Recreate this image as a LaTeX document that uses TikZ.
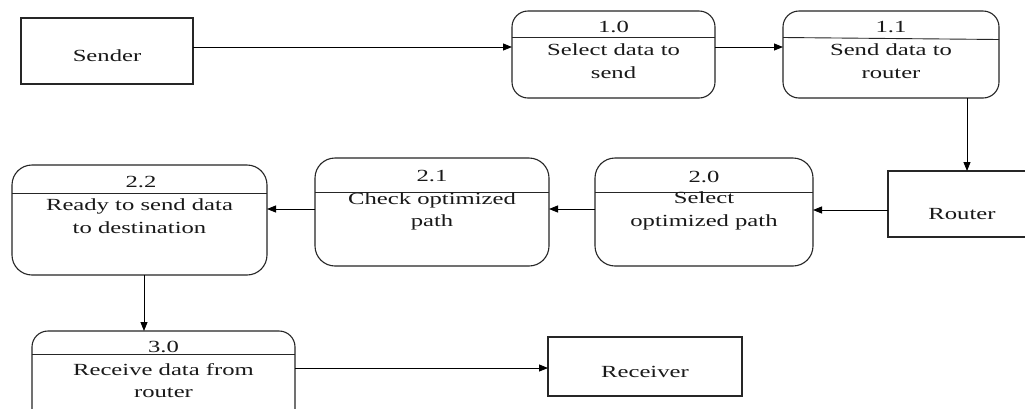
\documentclass[tikz,border=0pt]{standalone}
\usepackage{fontspec}
\setmainfont{Liberation Serif}[FakeStretch=1.45]
\usetikzlibrary{arrows.meta}
\begin{document}
\begin{tikzpicture}[x=1pt,y=-1pt,
  entity/.style={draw=black!85, line width=1.1pt, rectangle, inner sep=0pt, outer sep=0pt},
  procbox/.style={draw=black!85, line width=1.1pt, rectangle, rounded corners=16pt, inner sep=0pt, outer sep=0pt},
  divline/.style={draw=black!85, line width=0.9pt},
  arr/.style={draw=black, line width=0.9pt, -{Triangle[length=9pt,width=7pt]}},
  txt/.style={anchor=base, align=center, inner sep=0pt, text=black!90, font=\fontsize{17}{22.5}\selectfont}]
\clip (0,0) rectangle (1025,408);
\fill[white] (0,0) rectangle (1025,408);

% external entities
\node[entity, minimum width=172pt, minimum height=66pt] (sender) at (107,51) {};
\node[entity, minimum width=148pt, minimum height=66pt] (router) at (962,204) {};
\node[entity, minimum width=194pt, minimum height=59pt] (receiver) at (645,366.5) {};
\node[txt] (sendert) at (107,61) {Sender};
\node[txt] (routert) at (962,219) {Router};
\node[txt] (receivert) at (645,377) {Receiver};

% processes
\node[procbox, minimum width=203pt, minimum height=87pt] (p10) at (613.5,54.5) {};
\node[procbox, minimum width=216pt, minimum height=87pt] (p11) at (891,54.5) {};
\node[procbox, rounded corners=20pt, minimum width=218pt, minimum height=108pt] (p20) at (704,212) {};
\node[procbox, rounded corners=20pt, minimum width=234pt, minimum height=108pt] (p21) at (432,212) {};
\node[procbox, rounded corners=20pt, minimum width=255pt, minimum height=110pt] (p22) at (139.5,220) {};
\node[procbox, minimum width=263pt, minimum height=99pt] (p30) at (163.5,380.5) {};

% dividers
\draw[divline] (p10.west |- 0,37) -- (p10.east |- 0,37);
\draw[divline] (p11.west |- 0,37.5) -- (p11.east |- 0,39.5);
\draw[divline] (p20.west |- 0,192) -- (p20.east |- 0,192);
\draw[divline] (p21.west |- 0,192) -- (p21.east |- 0,192);
\draw[divline] (p22.west |- 0,193) -- (p22.east |- 0,193);
\draw[divline] (p30.west |- 0,354) -- (p30.east |- 0,354);

% process texts (base anchor = baseline of the last line)
\node[txt] (n10) at (613.5,32) {1.0};
\node[txt] (d10) at (613.5,78) {Select data to\\send};
\node[txt] (n11) at (891,32) {1.1};
\node[txt] (d11) at (891,78) {Send data to\\router};
\node[txt] (n20) at (704,182) {2.0};
\node[txt] (d20) at (704,226) {Select\\optimized path};
\node[txt] (n21) at (432,181) {2.1};
\node[txt] (d21) at (432,226.5) {Check optimized\\path};
\node[txt] (n22) at (141,187) {2.2};
\node[txt] (d22) at (139.5,233) {Ready to send data\\to destination};
\node[txt] (n30) at (163.5,352) {3.0};
\node[txt] (d30) at (163.5,397.5) {Receive data from\\router};

% flows
\draw[arr] (sender.east |- 0,47) -- (p10.west |- 0,47);
\draw[arr] (p10.east |- 0,47) -- (p11.west |- 0,47);
\draw[arr] (p11.south -| 967,0) -- (router.north -| 967,0);
\draw[arr] (router.west |- 0,210) -- (p20.east |- 0,210);
\draw[arr] (p20.west |- 0,209) -- (p21.east |- 0,209);
\draw[arr] (p21.west |- 0,209) -- (p22.east |- 0,209);
\draw[arr] (p22.south -| 144,0) -- (p30.north -| 144,0);
\draw[arr] (p30.east |- 0,368) -- (receiver.west |- 0,368);
\end{tikzpicture}
\end{document}
